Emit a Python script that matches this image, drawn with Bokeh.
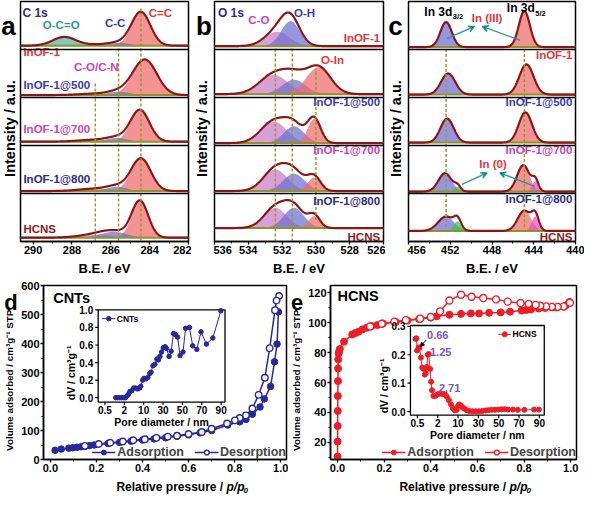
import numpy as np
from bokeh.plotting import figure
from bokeh.models import (Range1d, Span, Legend, LegendItem, SingleIntervalTicker,
                          PrintfTickFormatter, Arrow, VeeHead, NormalHead)
from bokeh.layouts import row, column
from bokeh.core.properties import value
from bokeh.embed import file_html
from bokeh.resources import INLINE

FONT = "Liberation Sans"

# ---------------- data ----------------
SAMPLES = ["InOF-1", "InOF-1@500", "InOF-1@700", "InOF-1@800", "HCNS"]
SAMPLE_COLORS = ["#e8333a", "#3a3ab8", "#c545b5", "#2b2b8f", "#8c1c1c"]

# fitted XPS components per sample (top -> bottom): (B.E. eV, height, FWHM eV)
C1S_CEQC = [(284.45, 0.70, 1.15), (284.25, 0.74, 1.45), (284.5, 0.66, 1.15), (284.45, 0.68, 1.2), (284.5, 0.76, 1.0)]
C1S_CC = [(285.6, 0.06, 1.3), (285.6, 0.07, 1.3), (285.7, 0.08, 1.2), (285.7, 0.09, 1.2), (285.85, 0.12, 1.6)]
C1S_CO_CN = [(286.8, 0.02, 1.8), (286.8, 0.03, 2.0), (286.8, 0.04, 2.0), (286.8, 0.05, 2.0), (286.8, 0.06, 2.0)]
C1S_OCO = [(288.4, 0.18, 1.4), (288.4, 0.0, 1.4), (288.4, 0.0, 1.4), (288.4, 0.0, 1.4), (288.4, 0.0, 1.4)]

O1S_CO = [(532.3, 0.30, 1.7), (532.5, 0.40, 2.0), (532.5, 0.45, 1.8), (532.4, 0.45, 1.7), (532.4, 0.42, 1.6)]
O1S_OH = [(531.5, 0.52, 1.3), (531.3, 0.30, 1.6), (531.3, 0.35, 1.4), (531.3, 0.36, 1.5), (531.3, 0.42, 1.4)]
O1S_OIN = [(530.0, 0.0, 1.0), (529.85, 0.56, 1.7), (530.1, 0.50, 0.9), (530.1, 0.28, 0.9), (530.1, 0.25, 0.8)]

IN3D_32 = [(452.4, 0.52, 1.3), (452.2, 0.44, 1.6), (452.3, 0.50, 1.5), (452.5, 0.38, 1.5), (452.4, 0.30, 1.8)]
IN3D_52 = [(444.9, 0.75, 1.25), (444.7, 0.63, 1.6), (444.8, 0.63, 1.5), (445.0, 0.55, 1.4), (444.9, 0.42, 1.5)]
IN0_32 = [(451.3, 0.0, 0.7), (451.3, 0.0, 0.7), (451.3, 0.0, 0.7), (451.3, 0.10, 0.7), (451.3, 0.20, 0.8)]
IN0_52 = [(443.85, 0.0, 0.7), (443.85, 0.0, 0.7), (443.85, 0.0, 0.7), (443.85, 0.22, 0.7), (443.85, 0.30, 0.8)]

# CNTs isotherm
CNT_ADS_P = [0.02, 0.047, 0.08, 0.097, 0.115, 0.133, 0.15, 0.17, 0.19, 0.25, 0.30, 0.35, 0.40, 0.45, 0.50,
             0.55, 0.60, 0.65, 0.70, 0.77, 0.822, 0.849, 0.877, 0.91, 0.929, 0.956, 0.973, 0.984, 0.99]
CNT_ADS_V = [32, 36, 39, 40.6, 42, 43.7, 45, 48, 50, 55, 59, 63, 67, 71, 75,
             80, 85, 92, 100, 119, 130, 138, 156, 181, 209, 252, 337, 398, 509]
CNT_DES_P = [0.993, 0.982, 0.975, 0.952, 0.931, 0.904, 0.877, 0.849, 0.822, 0.801, 0.767, 0.70, 0.657,
             0.60, 0.55, 0.51, 0.46, 0.41, 0.36, 0.315, 0.26, 0.21, 0.15]
CNT_DES_V = [564, 548, 515, 384, 282, 223, 176, 152, 143, 135, 124, 106, 95,
             88, 82, 79, 74.6, 70, 66.6, 62, 58, 53.5, 47]
# CNTs pore size distribution
CNT_PORE_NM = [1.34, 1.49, 1.64, 1.79, 1.94, 2.48, 3.3, 3.8, 4.3, 5.1, 5.9, 6.7, 7.5, 8.3, 8.8, 9.6,
               10.3, 12.3, 14.3, 16.3, 17.6, 19.6, 21.6, 23.6, 25.2, 26.8, 28.5,
               30.2, 32.2, 33.5, 36.2, 38.4, 40.8, 42.7, 45.0, 47.6,
               50.6, 53.3, 57.3, 60.6, 64.9, 69.2, 74.8, 81.4, 89.7]
CNT_DV = [0, 0, 0, 0, 0, 0, 0.025, 0.043, 0.07, 0.08, 0.11, 0.11, 0.10, 0.11, 0.13, 0.20,
          0.22, 0.215, 0.23, 0.275, 0.29, 0.365, 0.38, 0.44, 0.43, 0.47, 0.52,
          0.57, 0.58, 0.56, 0.47, 0.53, 0.73, 0.72, 0.69, 0.48,
          0.52, 0.79, 0.80, 0.59, 0.55, 0.75, 0.61, 0.68, 0.99]

# HCNS isotherm
HCNS_ADS_P = [0.0003, 0.0005, 0.0008, 0.001, 0.0015, 0.002, 0.0025, 0.003, 0.005, 0.007, 0.01, 0.028,
              0.063, 0.077, 0.09, 0.107, 0.125, 0.146, 0.171, 0.195, 0.25, 0.30, 0.35, 0.40, 0.425,
              0.48, 0.53, 0.572, 0.607, 0.65, 0.70, 0.74, 0.79, 0.81, 0.83, 0.863, 0.89, 0.92, 0.94,
              0.97, 0.98, 0.995]
HCNS_ADS_V = [10.5, 20.5, 31, 41, 51, 61, 69.5, 75.5, 79.5, 81, 82.5, 87.4,
              92.2, 93.2, 94, 95.6, 96.7, 97.8, 98.5, 99.6, 100.6, 101.5, 102.5, 103.5, 104.4,
              105.4, 106, 106.3, 106.3, 106.7, 107, 107.5, 108.2, 108.6, 109, 109.6, 110, 110.3, 110.3,
              110.8, 111.8, 114]
HCNS_DES_P = [0.997, 0.97, 0.945, 0.92, 0.895, 0.87, 0.85, 0.82, 0.785, 0.73, 0.68, 0.625, 0.575,
              0.53, 0.48, 0.44, 0.40, 0.355, 0.293, 0.244, 0.19, 0.14]
HCNS_DES_V = [113.5, 111, 110.7, 110.7, 111, 111.4, 112, 112.7, 113.3, 114.2, 115.7, 116.6, 117.5,
              118.8, 115, 107.7, 103.9, 102.8, 101.8, 100.8, 99.4, 97.5]
# HCNS pore size distribution
HCNS_PORE_NM = [0.36, 0.43, 0.48, 0.60, 0.66, 0.76, 0.86, 0.96, 1.05, 1.12, 1.2, 1.27, 1.34, 1.44,
                1.51, 1.58, 1.68, 1.82, 1.96, 2.58, 3.3, 4.1, 4.9, 5.6, 6.4, 7.2, 7.95, 8.7, 9.5,
                10.0, 11.3, 12.9, 14.5, 16.4, 18.3, 20.9, 24.1, 27.3, 30.5, 33.7, 36.9, 40.0, 43.2,
                46.4, 49.6, 52.8, 56.0, 59.2, 64.0, 68.8, 75.2, 84.8, 89.5]
HCNS_DV = [0.256, 0.258, 0.215, 0.226, 0.225, 0.19, 0.155, 0.15, 0.13, 0.135, 0.157, 0.20, 0.203, 0.15,
           0.105, 0.075, 0.055, 0.055, 0.06, 0.063, 0.063, 0.062, 0.06, 0.052, 0.04, 0.025, 0.012, 0.004,
           0.006, 0.02, 0.025, 0.02, 0.014, 0.01, 0.005, 0.002, 0.001, 0.001, 0.001, 0.002, 0.004, 0.005,
           0.006, 0.006, 0.007, 0.008, 0.008, 0.007, 0.007, 0.006, 0.006, 0.007, 0.007]
HCNS_PEAKS_NM = [0.66, 1.25, 2.71]

PORE_TICKS = [0.5, 2, 10, 30, 50, 70, 90]

# ---------------- styling / layout ----------------
RED_F, BLUE_F, PINK_F = "#f06a6a", "#6c6cd4", "#c77cc7"
TEAL_F, GREEN_F, MAG_F = "#4db3a5", "#3cc24a", "#e24fc8"
SUM_C, BASE_C, GUIDE_C = "#8b1515", "#8f9428", "#9a9a2a"
NAVY, RED = "#28289a", "#ee1c25"
W = 584
TOP_H, TOP_T, TOP_B, TOP_XT = 260, 1, 19, 16      # xps row: figure height, borders, x-title strip
BOT_H, BOT_T, BOT_B, BOT_XT = 202, 9, 19, 17      # isotherm row


def gauss(x, c, h, w):
    return h * np.exp(-4 * np.log(2) * ((x - c) / w) ** 2)


def style(p, lab_size):
    for ax in p.axis:
        ax.axis_label = None
        ax.axis_label_standoff = 0
        ax.major_label_text_font = FONT
        ax.major_label_text_font_style = "bold"
        ax.major_label_text_font_size = lab_size
        ax.major_label_text_color = "black"
        ax.axis_line_color = "black"
        ax.axis_line_width = 1.5
        ax.major_tick_line_color = "black"
        ax.major_tick_line_width = 1.3
        ax.minor_tick_line_color = "black"
        ax.major_tick_in = 0
        ax.major_tick_out = 3
        ax.minor_tick_in = 0
        ax.minor_tick_out = 2
        ax.major_label_standoff = 1
    p.grid.visible = False
    p.outline_line_color = "black"
    p.outline_line_width = 1.5
    p.outline_line_alpha = 1.0


def txt(p, x, y, s, color="black", size="11px", align="left", baseline="middle", angle=0.0,
        style_="bold", **kw):
    p.text(x=[x], y=[y], text=[s], text_color=color, text_font=value(FONT), text_font_style=style_,
           text_font_size=size, text_align=align, text_baseline=baseline, angle=angle, **kw)


def blank(width, height):
    s = figure(width=width, height=height, x_range=Range1d(0, width), y_range=Range1d(0, height),
               output_backend="svg", toolbar_location=None, x_axis_location=None, y_axis_location=None,
               min_border_left=0, min_border_right=0, min_border_top=0, min_border_bottom=0)
    s.grid.visible = False
    s.outline_line_color = None
    return s


def ystrip(width, height, letter, lsize, lx, ly, title, tx, ty, tsize):
    """Narrow strip left of a panel: panel letter and rotated axis title (pixel coords from top)."""
    s = blank(width, height)
    txt(s, lx, height - ly, letter, "black", lsize, align="center", baseline="alphabetic")
    txt(s, tx, height - ty, title, "black", tsize, align="left", baseline="middle", angle=np.pi / 2)
    return s


def make_xps(width, right, xr, ticker, comps, bases, guides):
    p = figure(width=width, height=TOP_H, x_range=Range1d(*xr), y_range=Range1d(0, 5),
               output_backend="svg", toolbar_location=None, y_axis_location=None, min_border_left=1,
               min_border_right=right, min_border_top=TOP_T, min_border_bottom=TOP_B)
    p.xaxis.ticker = ticker
    style(p, "11px")
    grid = np.linspace(min(xr), max(xr), 500)
    for i in range(len(SAMPLES)):
        off = 4 - i + bases[i]
        total = np.zeros_like(grid)
        for plist, color in comps:
            c, h, w = plist[i]
            if h <= 0:
                continue
            g = gauss(grid, c, h, w)
            p.varea(x=grid, y1=np.full_like(grid, off), y2=off + g, fill_color=color, fill_alpha=0.72)
            total += g
        p.line(grid, np.full_like(grid, off), line_color=BASE_C, line_width=2)
        p.line(grid, off + total, line_color=SUM_C, line_width=2.2)
    for k in range(1, 5):
        p.add_layout(Span(location=k, dimension="width", line_color="black", line_width=1.5))
    for gx, y0, y1 in guides:
        p.line([gx, gx], [y0, y1], line_color=GUIDE_C, line_width=1.5, line_dash="3 2")
    return p


def pore_idx(nm):
    nm = np.asarray(nm, dtype=float)
    idx = np.interp(nm, PORE_TICKS, np.arange(len(PORE_TICKS)))
    low = nm < PORE_TICKS[0]
    idx[low] = (nm[low] - PORE_TICKS[0]) / (PORE_TICKS[1] - PORE_TICKS[0])
    return idx


def inset(p, key, box, xlim, ylim, frame_w, frame_h, yticks, ylabels, lab_off, title_off):
    fx0, fx1, fy0, fy1 = box
    sx = (xlim[1] - xlim[0]) / (fx1 - fx0)
    sy = (ylim[1] - ylim[0]) / (fy1 - fy0)
    p.extra_x_ranges = {key: Range1d(xlim[0] - fx0 * sx, xlim[0] + (1 - fx0) * sx)}
    p.extra_y_ranges = {key: Range1d(ylim[0] - fy0 * sy, ylim[0] + (1 - fy0) * sy)}
    kw = dict(x_range_name=key, y_range_name=key)
    ppx = (fx1 - fx0) * frame_w / (xlim[1] - xlim[0])
    ppy = (fy1 - fy0) * frame_h / (ylim[1] - ylim[0])
    p.quad(left=[xlim[0]], right=[xlim[1]], bottom=[ylim[0]], top=[ylim[1]], fill_color="white",
           line_color="black", line_width=1.3, **kw)
    n = len(yticks)
    p.segment(x0=[xlim[0]] * n, y0=yticks, x1=[xlim[0] - 3 / ppx] * n, y1=yticks,
              line_color="black", line_width=1.2, **kw)
    p.text(x=[xlim[0] - 5 / ppx] * n, y=yticks, text=ylabels, text_align="right", text_baseline="middle",
           text_font=value(FONT), text_font_style="bold", text_font_size="10px", text_color="black", **kw)
    xt = list(range(len(PORE_TICKS)))
    m = len(xt)
    p.segment(x0=xt, y0=[ylim[0]] * m, x1=xt, y1=[ylim[0] - 3 / ppy] * m, line_color="black",
              line_width=1.2, **kw)
    p.text(x=xt, y=[ylim[0] - 4 / ppy] * m, text=[("%g" % t) for t in PORE_TICKS], text_align="center",
           text_baseline="top", text_font=value(FONT), text_font_style="bold", text_font_size="10px",
           text_color="black", **kw)
    txt(p, xlim[0] - title_off / ppx, ylim[0] + 0.02 * (ylim[1] - ylim[0]), "dV / cm\u00b3g\u207b\u00b9",
        size="10.5px", align="left", baseline="middle", angle=np.pi / 2, **kw)
    txt(p, (xlim[0] + xlim[1]) / 2, ylim[0] - lab_off / ppy, "Pore diameter / nm", size="10.5px",
        align="center", baseline="top", **kw)
    return kw


def make_iso(width, right, yr, yint):
    p = figure(width=width, height=BOT_H, x_range=Range1d(-0.03, 1.025), y_range=Range1d(*yr),
               output_backend="svg", toolbar_location=None, min_border_left=24,
               min_border_right=right, min_border_top=BOT_T, min_border_bottom=BOT_B)
    p.xaxis.ticker = SingleIntervalTicker(interval=0.2, num_minor_ticks=2)
    p.yaxis.ticker = SingleIntervalTicker(interval=yint, num_minor_ticks=2)
    p.xaxis.formatter = PrintfTickFormatter(format="%.1f")
    style(p, "11px")
    return p


def iso_series(p, ap, av, dp, dv, color, size):
    l1 = p.line(ap, av, line_color=color, line_width=1.5)
    s1 = p.scatter(ap, av, size=size, fill_color=color, line_color=color)
    l2 = p.line(dp, dv, line_color=color, line_width=1.5)
    s2 = p.scatter(dp, dv, size=size, fill_color="white", line_color=color, line_width=1.4)
    leg = Legend(items=[LegendItem(label="Adsorption", renderers=[l1, s1]),
                        LegendItem(label="Desorption", renderers=[l2, s2])],
                 location="bottom_right", orientation="horizontal", background_fill_alpha=0,
                 border_line_alpha=0, label_text_font=FONT, label_text_font_style="bold",
                 label_text_font_size="12.5px", glyph_width=24, glyph_height=12, label_standoff=2,
                 spacing=10, padding=0, margin=0, label_height=12)
    p.add_layout(leg)


INTENSITY = "Intensity / a.u."
VOLUME = "Volume adsorbed / cm\u00b3g\u207b\u00b9 STP"

# ---------------- panel a ----------------
sa = ystrip(19, TOP_H, "a", "26px", 8, 26, INTENSITY, 9.5, 190, "14.5px")
pa = make_xps(172, 3, (290.65, 282), SingleIntervalTicker(interval=2, num_minor_ticks=2),
              [(C1S_OCO, TEAL_F), (C1S_CEQC, RED_F), (C1S_CO_CN, PINK_F), (C1S_CC, BLUE_F)],
              [0.08, 0.05, 0.08, 0.05, 0.08],
              [(C1S_CEQC[0][0], 0, 4.9), (C1S_CC[0][0], 0, 4.05), (C1S_CO_CN[0][0], 0, 3.3)])
txt(pa, 290.55, 4.76, "C 1s", "#2b2b8f", "12px")
txt(pa, 289.5, 4.52, "O-C=O", "#2a9d8f", "11.5px")
txt(pa, 286.3, 4.56, "C-C", "#3a3ab8", "11.5px")
txt(pa, 284.05, 4.76, "C=C", "#e8333a", "11.5px")
txt(pa, 287.9, 3.63, "C-O/C-N", "#c545b5", "11.5px")
for s, c, y in zip(SAMPLES, SAMPLE_COLORS, [3.95, 3.27, 2.34, 1.31, 0.26]):
    txt(pa, 290.5, y, s, c, "11.5px")

# ---------------- panel b ----------------
sb = ystrip(22, TOP_H, "b", "26px", 12.5, 26, INTENSITY, 10.5, 190, "14.5px")
pb = make_xps(172, 2, (536, 526), SingleIntervalTicker(interval=2, num_minor_ticks=2),
              [(O1S_CO, PINK_F), (O1S_OH, BLUE_F), (O1S_OIN, RED_F)],
              [0.07, 0.07, 0.05, 0.05, 0.28],
              [(O1S_CO[1][0] - 0.1, 0, 4.05), (O1S_OH[1][0] + 0.1, 0, 4.05), (530.0, 0.45, 3.6)])
txt(pb, 535.8, 4.76, "O 1s", "#2b2b8f", "12px")
txt(pb, 534.0, 4.62, "C-O", "#c545b5", "11.5px")
txt(pb, 531.3, 4.76, "O-H", "#3a3ab8", "11.5px")
txt(pb, 529.7, 3.79, "O-In", "#e8333a", "11.5px")
for s, c, y in zip(SAMPLES, SAMPLE_COLORS, [4.25, 2.9, 1.9, 0.85, 0.1]):
    txt(pb, 526.2, y, s, c, "11.5px", align="right")

# ---------------- panel c ----------------
sc = ystrip(22, TOP_H, "c", "26px", 10, 26, INTENSITY, 10.5, 190, "14.5px")
pc = make_xps(177, 9, (456, 440), SingleIntervalTicker(interval=4, num_minor_ticks=2),
              [(IN3D_32, BLUE_F), (IN3D_52, RED_F), (IN0_32, GREEN_F), (IN0_52, MAG_F)],
              [0.05, 0.06, 0.06, 0.04, 0.22],
              [(452.4, 0.3, 4.0), (444.9, 0.3, 4.0)])
txt(pc, 451.8, 4.78, "In 3d", "black", "12px", align="right")
txt(pc, 451.75, 4.68, "3/2", "black", "7.5px")
txt(pc, 443.9, 4.86, "In 3d", "black", "12px", align="right")
txt(pc, 443.85, 4.76, "5/2", "black", "7.5px")
txt(pc, 448.47, 4.66, "In (III)", "#e8333a", "11.5px", align="center")
txt(pc, 447.9, 1.61, "In (0)", "#e8333a", "11.5px", align="center")
for (x0, y0, x1, y1) in [(452.28, 4.23, 449.67, 4.48), (445.3, 4.19, 448.93, 4.48),
                         (450.88, 1.19, 448.47, 1.43), (443.9, 1.15, 447.26, 1.43)]:
    pc.add_layout(Arrow(end=VeeHead(size=6, line_color="#1f9a9a", line_width=1.3),
                        x_start=x0, y_start=y0, x_end=x1, y_end=y1,
                        line_color="#1f9a9a", line_width=1.3))
for s, c, y in zip(SAMPLES, SAMPLE_COLORS, [3.89, 2.9, 1.9, 0.89, 0.1]):
    txt(pc, 440.3, y, s, c, "11.5px", align="right")

# x titles of the XPS row
xt_top = blank(W, TOP_XT)
for cx in [19 + 1 + (172 - 4) / 2, 19 + 172 + 22 + 1 + (172 - 3) / 2, 19 + 172 + 22 + 172 + 22 + 1 + (177 - 10) / 2]:
    txt(xt_top, cx, TOP_XT / 2, "B.E. / eV", "black", "13px", align="center")

# ---------------- panel d ----------------
PD_W, PE_W = 270, 279
sd = ystrip(18, BOT_H, "d", "22px", 10.5, 20, VOLUME, 8.5, 192, "9.8px")
pd = make_iso(PD_W, 2, (0, 600), 100)
iso_series(pd, CNT_ADS_P, CNT_ADS_V, CNT_DES_P, CNT_DES_V, NAVY, 6.5)
txt(pd, 0.012, 556, "CNTs", "black", "14.5px")
kwd = inset(pd, "ins", (0.225, 0.747, 0.33, 0.86), (-0.35, 6.2), (-0.05, 1.0),
            PD_W - 24 - 2, BOT_H - BOT_T - BOT_B,
            [0.0, 0.2, 0.4, 0.6, 0.8, 1.0], ["0.0", "0.2", "0.4", "0.6", "0.8", "1.0"], 14, 27)
xd = pore_idx(CNT_PORE_NM)
pd.line(xd, CNT_DV, line_color=NAVY, line_width=1, **kwd)
pd.scatter(xd, CNT_DV, size=4.5, fill_color=NAVY, line_color=NAVY, **kwd)
pd.line([-0.15, 0.54], [0.9, 0.9], line_color=NAVY, line_width=1, **kwd)
pd.scatter([0.2], [0.9], size=4.5, fill_color=NAVY, line_color=NAVY, **kwd)
txt(pd, 0.61, 0.9, "CNTs", "black", "8.5px", **kwd)

# ---------------- panel e ----------------
se = ystrip(17, BOT_H, "e", "22px", 8.5, 20, VOLUME, 8, 192, "9.8px")
pe = make_iso(PE_W, 8, (8.5, 125), 20)
iso_series(pe, HCNS_ADS_P, HCNS_ADS_V, HCNS_DES_P, HCNS_DES_V, RED, 7)
txt(pe, 0.0, 118, "HCNS", "black", "14.5px")
kwe = inset(pe, "ins", (0.325, 0.869, 0.255, 0.77), (-0.34, 6.24), (-0.0126, 0.303),
            PE_W - 24 - 8, BOT_H - BOT_T - BOT_B,
            [0.0, 0.1, 0.2, 0.3], ["0.0", "0.1", "0.2", "0.3"], 14, 27)
xe = pore_idx(HCNS_PORE_NM)
pe.line(xe, HCNS_DV, line_color=RED, line_width=1, **kwe)
pe.scatter(xe, HCNS_DV, size=5, fill_color=RED, line_color=RED, **kwe)
pe.line([3.98, 4.6], [0.272, 0.272], line_color=RED, line_width=1, **kwe)
pe.scatter([4.3], [0.272], size=5, fill_color=RED, line_color=RED, **kwe)
txt(pe, 4.68, 0.272, "HCNS", "black", "8.5px", **kwe)
PURPLE = "#7656c4"
pk = pore_idx(HCNS_PEAKS_NM)
txt(pe, pk[0] + 0.37, 0.27, "0.66", PURPLE, "11px", **kwe)
txt(pe, pk[1] + 0.12, 0.208, "1.25", PURPLE, "11px", **kwe)
txt(pe, pk[2] - 0.03, 0.083, "2.71", PURPLE, "11px", **kwe)
pe.add_layout(Arrow(end=NormalHead(size=4, fill_color="black", line_color="black"),
                    x_start=pk[0] + 0.33, y_start=0.252, x_end=pk[0] + 0.04, y_end=0.229,
                    line_color="black", line_width=1, **kwe))

# x titles of the isotherm row
xt_bot = blank(W, BOT_XT)
for anchor in [226, 18 + PD_W + 17 + 24 + 180]:
    txt(xt_bot, anchor, BOT_XT - 8, "Relative pressure / ", "black", "12px", align="right")
    txt(xt_bot, anchor, BOT_XT - 8, "p/p", "black", "12px", align="left", style_="bold italic")
    txt(xt_bot, anchor + 17, BOT_XT - 11.5, "0", "black", "8px", align="left", style_="bold italic")

layout = column(row(sa, pa, sb, pb, sc, pc), xt_top, row(sd, pd, se, pe), xt_bot)
open("out.html", "w").write(file_html(layout, INLINE))
